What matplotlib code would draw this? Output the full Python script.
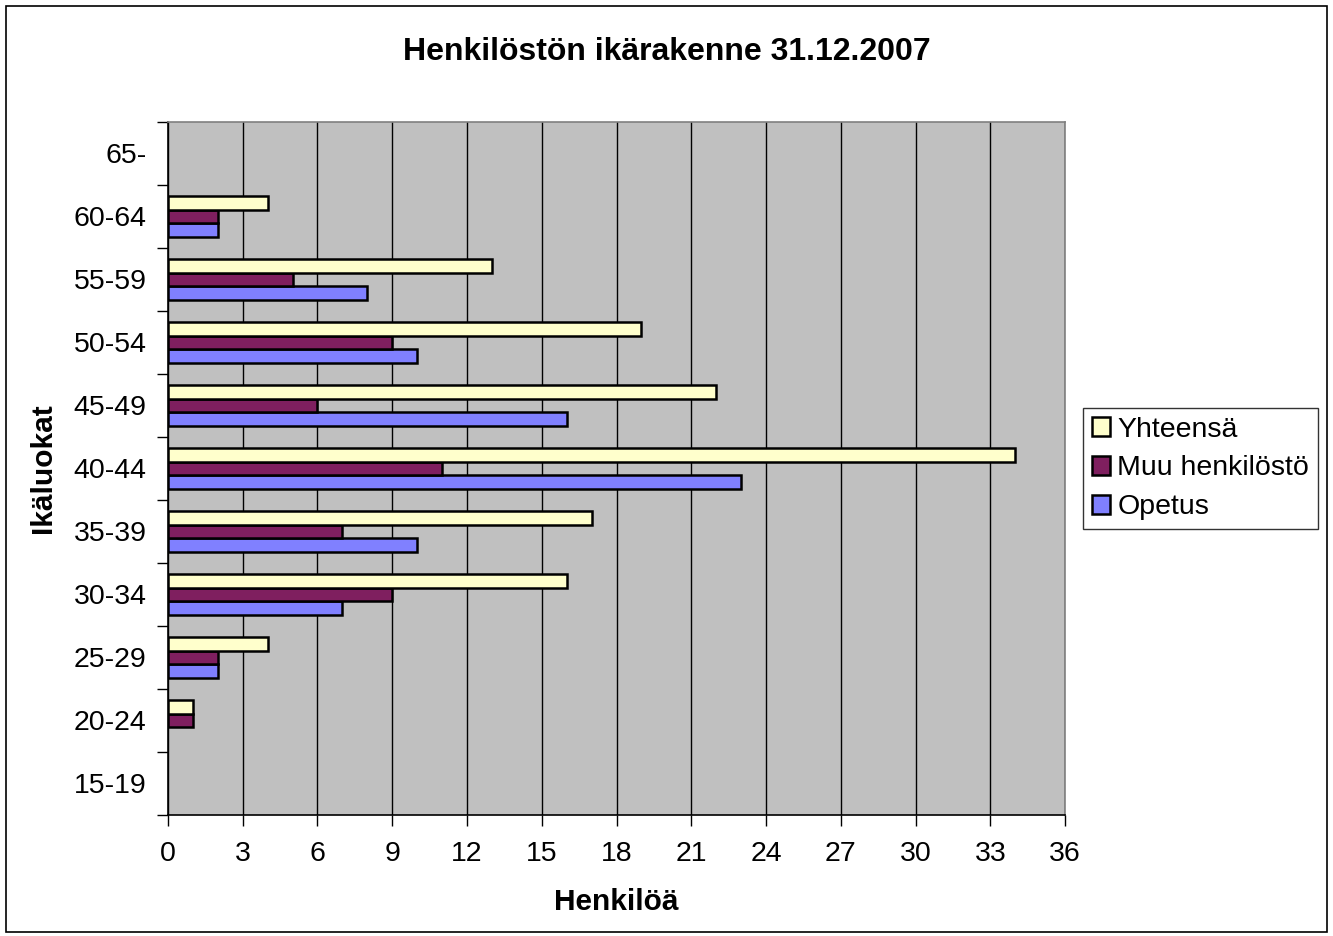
import matplotlib
matplotlib.use("Agg")
import matplotlib.pyplot as plt
import numpy as np
from matplotlib.patches import Rectangle, Patch

plt.rcParams['font.family'] = ['Liberation Sans', 'DejaVu Sans']

categories = ["15-19", "20-24", "25-29", "30-34", "35-39", "40-44",
              "45-49", "50-54", "55-59", "60-64", "65-"]
yhteensa = [0, 1, 4, 16, 17, 34, 22, 19, 13, 4, 0]
muu = [0, 1, 2, 9, 7, 11, 6, 9, 5, 2, 0]
opetus = [0, 0, 2, 7, 10, 23, 16, 10, 8, 2, 0]
xticks = list(range(0, 37, 3))

c_yht = '#FFFFCC'
c_muu = '#7F1F5F'
c_ope = '#8080FF'

fig = plt.figure(figsize=(13.33, 9.36), dpi=100)
fig.patches.append(Rectangle((0.0045, 0.0045), 0.991, 0.989, transform=fig.transFigure,
                             fill=False, edgecolor='black', linewidth=1.2))
ax = fig.add_axes([0.126, 0.1293, 0.673, 0.7404])
ax.set_facecolor('#C0C0C0')

y = np.arange(len(categories))
h = 0.22
ax.set_axisbelow(True)
ax.xaxis.grid(True, color='black', linewidth=1.0)
bo = ax.barh(y - h, opetus, height=h, color=c_ope, edgecolor='black', linewidth=1.8)
bm = ax.barh(y, muu, height=h, color=c_muu, edgecolor='black', linewidth=1.8)
by = ax.barh(y + h, yhteensa, height=h, color=c_yht, edgecolor='black', linewidth=1.8)
for cont in (bo, bm, by):
    for p in cont.patches:
        if p.get_width() == 0:
            p.set_visible(False)

ax.set_xlim(0, 36)
ax.set_ylim(-0.5, len(categories) - 0.5)
ax.set_xticks(xticks)
ax.set_xticklabels([str(t) for t in xticks], fontsize=20.5)
ax.tick_params(axis='x', direction='out', length=8, width=1, pad=11)
ax.set_yticks(y)
ax.set_yticklabels(categories, fontsize=20.5)
ax.tick_params(axis='y', which='major', length=0, pad=15.5)
ax.set_yticks(np.arange(-0.5, len(categories) + 0.5, 1), minor=True)
ax.tick_params(axis='y', which='minor', direction='out', length=8, width=1)

for s in ['left', 'bottom']:
    ax.spines[s].set_color('black')
    ax.spines[s].set_linewidth(1.2)
for s in ['top', 'right']:
    ax.spines[s].set_color('#808080')
    ax.spines[s].set_linewidth(1.2)

ax.set_xlabel('Henkilöä', fontsize=21.5, fontweight='bold', labelpad=15)
ax.set_ylabel('Ikäluokat', fontsize=21.5, fontweight='bold', labelpad=12)
fig.text(0.5, 0.944, 'Henkilöstön ikärakenne 31.12.2007', ha='center', va='center',
         fontsize=23, fontweight='bold')

handles = [Patch(facecolor=c_yht, edgecolor='black', linewidth=1.8, label='Yhteensä'),
           Patch(facecolor=c_muu, edgecolor='black', linewidth=1.8, label='Muu henkilöstö'),
           Patch(facecolor=c_ope, edgecolor='black', linewidth=1.8, label='Opetus')]
leg = ax.legend(handles=handles, loc='center left', bbox_to_anchor=(1.02, 0.5),
                fontsize=20.5, frameon=True, fancybox=False, edgecolor='black',
                handlelength=0.65, handleheight=0.65, handletextpad=0.25,
                borderpad=0.3, labelspacing=0.45, borderaxespad=0)
leg.get_frame().set_linewidth(1.0)

fig.savefig('out.png', dpi=100)
